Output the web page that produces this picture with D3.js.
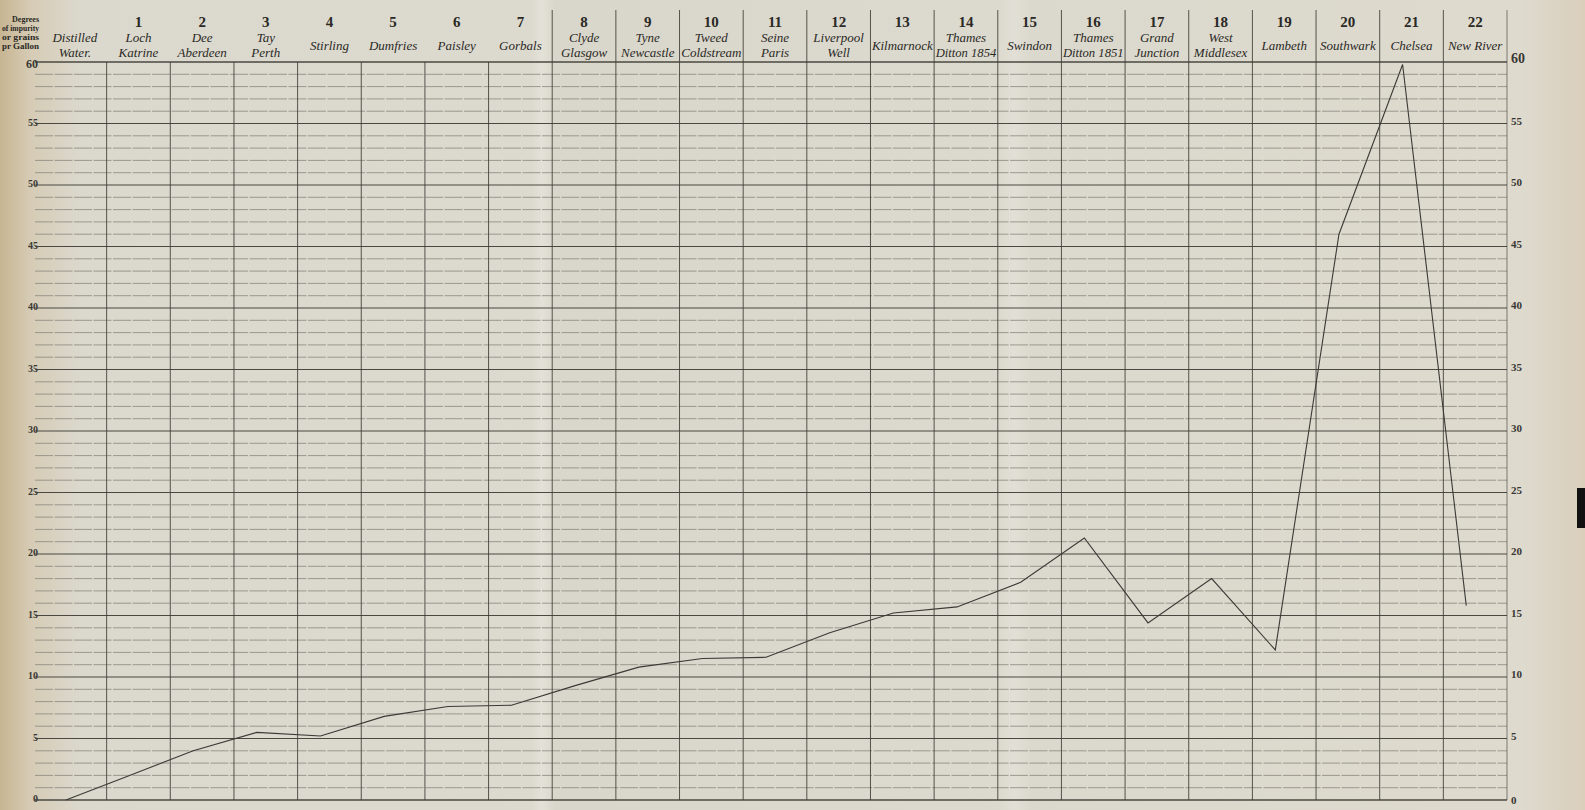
<!DOCTYPE html>
<html>
<head>
<meta charset="utf-8">
<script src="https://cdn.jsdelivr.net/npm/d3@7"></script>
<style>
    body { margin: 0; background: #dcd9ce; overflow: hidden; }
    svg { display: block; }
</style>
</head>
<body>
<svg id="chart"></svg>
<script>
// water supplies, in the order of the table
const places = [
    ['Distilled', 'Water.'], ['Loch', 'Katrine'], ['Dee', 'Aberdeen'], ['Tay', 'Perth'],
    ['Stirling'], ['Dumfries'], ['Paisley'], ['Gorbals'], ['Clyde', 'Glasgow'],
    ['Tyne', 'Newcastle'], ['Tweed', 'Coldstream'], ['Seine', 'Paris'], ['Liverpool', 'Well'],
    ['Kilmarnock'], ['Thames', 'Ditton 1854'], ['Swindon'], ['Thames', 'Ditton 1851'],
    ['Grand', 'Junction'], ['West', 'Middlesex'], ['Lambeth'], ['Southwark'], ['Chelsea'],
    ['New River']
];
const placeNumbers = ['', '1', '2', '3', '4', '5', '6', '7', '8', '9', '10', '11',
    '12', '13', '14', '15', '16', '17', '18', '19', '20', '21', '22'];
// degrees of impurity (grains per gallon)
const impurity = [0, 2.0, 4.0, 5.5, 5.2, 6.8, 7.6, 7.7, 9.3, 10.8, 11.5, 11.6, 13.6,
    15.2, 15.7, 17.7, 21.3, 14.4, 18.0, 12.2, 46.0, 59.8, 15.8];
const yTicks = [0, 5, 10, 15, 20, 25, 30, 35, 40, 45, 50, 55, 60];
const headerNote = ['Degrees', 'of impurity', 'or grains', 'pr Gallon'];

const width = 1585, height = 810;
const margin = { top: 62, right: 78, bottom: 10, left: 43 };

const svg = d3.select('#chart').attr('width', width).attr('height', height);

// paper
const grad = svg.append('defs').append('linearGradient').attr('id', 'paper');
[[0, '#c7b592'], [0.02, '#d6ccb6'], [0.05, '#dbd8cd'], [0.335, '#dcd9cf'], [0.342, '#e4e1d8'],
 [0.35, '#d9d6cb'], [0.63, '#dcd9ce'], [0.64, '#e2dfd6'], [0.65, '#dbd8cd'], [0.96, '#dedace'],
 [1, '#d9cfbb']].forEach(s => grad.append('stop').attr('offset', s[0]).attr('stop-color', s[1]));
svg.append('rect').attr('width', width).attr('height', height).attr('fill', 'url(#paper)');
svg.append('rect').attr('x', 1577).attr('y', 488).attr('width', 8).attr('height', 40).attr('fill', '#111');

const names = places.map(d => d.join(' '));
const x = d3.scaleBand().domain(names).range([margin.left, width - margin.right]);
const y = d3.scaleLinear().domain([0, 60]).range([height - margin.bottom, margin.top]);
const bw = x.bandwidth();

// horizontal rules, one for each degree
const grid = svg.append('g');
grid.selectAll('line.h')
    .data(d3.range(0, 61))
    .join('line')
    .attr('x1', margin.left - 8)
    .attr('x2', width - margin.right)
    .attr('y1', d => y(d))
    .attr('y2', d => y(d))
    .attr('stroke', d => d % 5 === 0 ? '#4a4840' : '#8a877d')
    .attr('stroke-width', d => (d === 60 || d === 0) ? 1.4 : d % 5 === 0 ? 1 : 0.8)
    .attr('stroke-dasharray', d => d % 5 === 0 ? null : '18,1.5');

// column rules
const bounds = names.slice(1).map(n => x(n)).concat([width - margin.right]);
grid.selectAll('line.v')
    .data(bounds)
    .join('line')
    .attr('x1', d => d)
    .attr('x2', d => d)
    .attr('y1', (d, i) => i >= 7 ? 10 : margin.top)
    .attr('y2', y(0))
    .attr('stroke', '#3d3b35')
    .attr('stroke-opacity', (d, i) => i === bounds.length - 1 ? 0.6 : 0.85)
    .attr('stroke-width', 1);

// header: numbers and names
const head = svg.append('g');
head.selectAll('text.num')
    .data(placeNumbers)
    .join('text')
    .attr('x', (d, i) => x(names[i]) + bw / 2)
    .attr('y', 27)
    .attr('text-anchor', 'middle')
    .attr('font-family', 'Liberation Serif, serif')
    .attr('font-weight', 'bold')
    .attr('font-size', 15)
    .attr('fill', '#2a2925')
    .text(d => d);

const nameText = head.selectAll('text.name')
    .data(places)
    .join('text')
    .attr('text-anchor', 'middle')
    .attr('font-family', 'Liberation Serif, serif')
    .attr('font-style', 'italic')
    .attr('font-size', 13)
    .attr('fill', '#2a2925');
nameText.each(function(d, i) {
    const t = d3.select(this);
    const cx = x(names[i]) + bw / 2;
    d.forEach((line, j) => {
        const ts = t.append('tspan')
            .attr('x', cx)
            .attr('y', d.length === 1 ? 50 : 42 + j * 15)
            .text(line);
        const w = ts.node().getComputedTextLength();
        if (w > bw - 3) ts.attr('textLength', bw - 3).attr('lengthAdjust', 'spacingAndGlyphs');
    });
});

// note at top left, narrow so it fits the margin
svg.append('text')
    .attr('font-family', 'Liberation Serif, serif')
    .attr('font-weight', 'bold')
    .attr('font-size', 8)
    .attr('fill', '#2a2925')
    .attr('text-anchor', 'end')
    .selectAll('tspan')
    .data(headerNote)
    .join('tspan')
    .attr('x', 39)
    .attr('y', (d, i) => 22 + i * 9)
    .attr('textLength', d => d.length > 7 ? 37 : null)
    .attr('lengthAdjust', 'spacingAndGlyphs')
    .text(d => d);

// scales on both sides
const tickFont = g => g
    .attr('font-family', 'Liberation Serif, serif')
    .attr('font-weight', 'bold')
    .attr('fill', '#3a3833');

svg.append('g').call(tickFont)
    .selectAll('text')
    .data(yTicks)
    .join('text')
    .attr('x', 38)
    .attr('y', d => y(d) + (d === 60 ? 6 : 2))
    .attr('text-anchor', 'end')
    .attr('font-size', d => d === 60 ? 12 : 10)
    .text(d => d);

svg.append('g').call(tickFont)
    .selectAll('text')
    .data(yTicks)
    .join('text')
    .attr('x', width - margin.right + 4)
    .attr('y', d => y(d) + (d === 0 ? 4 : 1))
    .attr('text-anchor', 'start')
    .attr('font-size', d => d === 60 ? 14 : 11)
    .text(d => d);

// the curve of impurity
const line = d3.line()
    .x((d, i) => x(names[i]) + bw * 0.36)
    .y(d => y(d));

svg.append('path')
    .datum(impurity)
    .attr('d', line)
    .attr('fill', 'none')
    .attr('stroke', '#3b3a36')
    .attr('stroke-width', 1.1);
</script>
</body>
</html>
